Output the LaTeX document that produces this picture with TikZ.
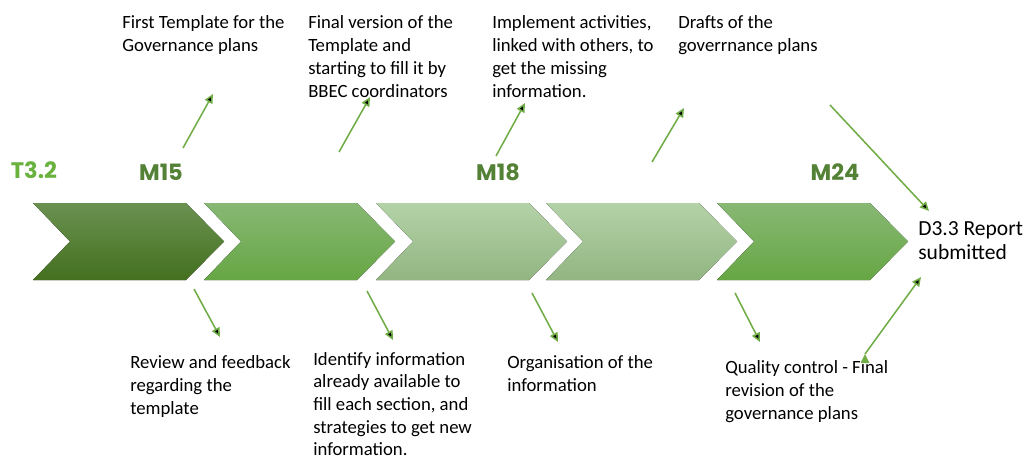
\documentclass[tikz,border=0pt]{standalone}
\usepackage{fontspec}
\setmainfont{Carlito}
\newfontfamily\milefont{Poppins}
\usepackage{tikz}
\usetikzlibrary{arrows.meta,positioning}

\definecolor{lgreen}{HTML}{70AD47}
\definecolor{tgreen}{HTML}{6AB23E}
\definecolor{mgreen}{HTML}{538135}
\definecolor{darktop}{HTML}{6A9150}
\definecolor{darkbot}{HTML}{44701F}
\definecolor{midtop}{HTML}{88B874}
\definecolor{midbot}{HTML}{66A644}
\definecolor{paletop}{HTML}{B4D2A8}
\definecolor{palebot}{HTML}{92B581}

% one step of the timeline, #1 = left x, #2/#3 = top/bottom shade
\newcommand{\chevron}[3]{%
  \fill[top color=#2,bottom color=#3] (#1,203) -- ++(153,0) -- ++(38,38.5)
    -- ++(-38,38.5) -- ++(-153,0) -- ++(37,-38.5) -- cycle;}

\begin{document}
\begin{tikzpicture}[x=0.025cm,y=-0.025cm,>={Triangle[length=6.5pt,width=6pt]},
	note/.style={anchor=north west,inner sep=0pt,align=left,
		font=\fontsize{13.3}{16.4}\selectfont},
	mile/.style={inner sep=0pt,text=mgreen,
		font=\milefont\bfseries\fontsize{16}{18}\selectfont},
	link/.style={->,draw=lgreen,line width=1.1pt}]

	\useasboundingbox (0,0) rectangle (1025,459);

	\chevron{33}{darktop}{darkbot}
	\chevron{204}{midtop}{midbot}
	\chevron{376}{paletop}{palebot}
	\chevron{546}{paletop}{palebot}
	\chevron{717}{midtop}{midbot}

	\node[mile,text=tgreen] (t32) at (34,170) {T3.2};
	\node[mile] (m15) at (161,172) {M15};
	\node[mile] (m18) at (498,172) {M18};
	\node[mile] (m24) at (835,172) {M24};

	% notes above the bar
	\node[note] (first) at (122,15) {First Template for the\\Governance plans};
	\node[note] (final) at (308,15) {Final version of the\\Template and\\starting to fill it by\\BBEC coordinators};
	\node[note] (implement) at (492,15) {Implement activities,\\linked with others, to\\get the missing\\information.};
	\node[note] (drafts) at (678,15) {Drafts of the\\goverrnance plans};
	% notes below the bar
	\node[note] (review) at (130,355) {Review and feedback\\regarding the\\template};
	\node[note,font=\fontsize{13.3}{16.1}\selectfont] (identify) at (313,352) {Identify information\\already available to\\fill each section, and\\strategies to get new\\information.};
	\node[note] (organise) at (507,355) {Organisation of the\\information};
	\node[note] (quality) at (725,360) {Quality control - Final\\revision of the\\governance plans};
	\node[note,font=\fontsize{15.3}{17}\selectfont] (report) at (918,221) {D3.3 Report\\submitted};

	\coordinate (u1) at (183,148); \coordinate (u1t) at (213,94);
	\coordinate (u2) at (339,152); \coordinate (u2t) at (370,97);
	\coordinate (u3) at (496,156); \coordinate (u3t) at (525,103);
	\coordinate (u4) at (652,162); \coordinate (u4t) at (684,108);
	\coordinate (u5) at (830,105); \coordinate (u5t) at (929,211);
	\coordinate (d1) at (194,289); \coordinate (d1t) at (220,337);
	\coordinate (d2) at (367,291); \coordinate (d2t) at (393,340);
	\coordinate (d3) at (532,293); \coordinate (d3t) at (558,342);
	\coordinate (d4) at (735,293); \coordinate (d4t) at (760,342);
	\coordinate (d5) at (865,354); \coordinate (d5t) at (921,277);

	\path[link]
	(u1) edge (u1t)
	(u2) edge (u2t)
	(u3) edge (u3t)
	(u4) edge (u4t)
	(u5) edge (u5t)
	(d1) edge (d1t)
	(d2) edge (d2t)
	(d3) edge (d3t)
	(d4) edge (d4t)
	(d5) edge (d5t);
\end{tikzpicture}
\end{document}
